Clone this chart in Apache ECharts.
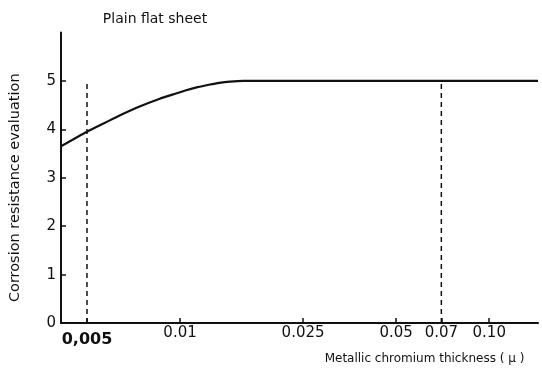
<!DOCTYPE html>
<html>
<head>
<meta charset="utf-8">
<script src="https://cdn.jsdelivr.net/npm/echarts@6/dist/echarts.min.js"></script>
<style>
  html, body { margin: 0; padding: 0; background: #fff; }
  #chart { width: 542px; height: 370px; }
</style>
</head>
<body>
<div id="chart"></div>
<script>
// metallic chromium thickness (micron) vs corrosion rating
const thickness = [0.00412, 0.005, 0.0057, 0.0064, 0.0074, 0.0086, 0.0095, 0.0104, 0.0114, 0.0124, 0.0134, 0.0145, 0.0160, 0.0175, 0.1438]
const rating = [3.65, 3.95, 4.13, 4.29, 4.47, 4.63, 4.72, 4.80, 4.87, 4.92, 4.96, 4.985, 5.0, 5.0, 5.0]

// dashed verticals drawn from 0 up to rating 5
const dashThickness = [0.005, 0.07]
const dashRange = [0, 5]

const xTickValues = [0.005, 0.01, 0.025, 0.05, 0.07, 0.1]
const xTickLabels = ["0,005", "0.01", "0.025", "0.05", "0.07", "0.10"]
const yTickValues = [0, 1, 2, 3, 4, 5]

const ink = "#111"
const font = "DejaVu Sans"

const chart = echarts.init(document.getElementById("chart"))

const dashSeries = dashThickness.map((x) => ({
  type: "line",
  data: dashRange.map((y) => [x, y]),
  symbol: "none",
  silent: true,
  lineStyle: { color: ink, width: 1.5, type: [5, 4] },
}))

const option = {
  animation: false,
  title: {
    text: "Plain flat sheet",
    left: 150,
    top: 7,
    textAlign: "center",
    textStyle: { fontFamily: font, fontSize: 14, fontWeight: "normal", color: ink },
  },
  grid: { left: 58, right: 4, top: 32.4, bottom: 41.8 },
  xAxis: {
    type: "log",
    min: 0.00412,
    max: 0.1438,
    name: "Metallic chromium thickness ( μ )",
    nameLocation: "middle",
    nameGap: 27,
    nameTextStyle: { fontFamily: font, fontSize: 12, color: ink, padding: [0, 0, 0, 250] },
    axisLine: { lineStyle: { color: ink, width: 2 } },
    axisTick: { inside: true, length: 5, customValues: xTickValues, lineStyle: { color: ink, width: 1.5 } },
    splitLine: { show: false },
    minorTick: { show: false },
    axisLabel: {
      customValues: xTickValues,
      margin: 3,
      fontFamily: font,
      fontSize: 15,
      color: ink,
      formatter: (v) => {
        let best = 0
        xTickValues.forEach((t, i) => {
          if (Math.abs(Math.log(t) - Math.log(v)) < Math.abs(Math.log(xTickValues[best]) - Math.log(v))) best = i
        })
        return best === 0 ? "{b|" + xTickLabels[best] + "}" : xTickLabels[best]
      },
      rich: {
        b: { fontFamily: font, fontSize: 16, fontWeight: "bold", color: ink, padding: [6, 0, 0, 0] },
      },
    },
  },
  yAxis: {
    type: "value",
    min: 0,
    max: 6,
    interval: 1,
    name: "Corrosion resistance evaluation",
    nameLocation: "middle",
    nameGap: 38,
    nameTextStyle: { fontFamily: font, fontSize: 14.5, color: ink, padding: [0, 20, 0, 0] },
    axisLine: { show: true, lineStyle: { color: ink, width: 2 } },
    axisTick: { show: true, inside: true, length: 5, customValues: yTickValues, lineStyle: { color: ink, width: 1.5 } },
    splitLine: { show: false },
    axisLabel: { customValues: yTickValues, margin: 5, fontFamily: font, fontSize: 15, color: ink },
  },
  series: [
    {
      type: "line",
      data: thickness.map((x, i) => [x, rating[i]]),
      symbol: "none",
      smooth: 0.2,
      lineStyle: { color: ink, width: 2.2 },
    },
    ...dashSeries,
  ],
}

chart.setOption(option)
</script>
</body>
</html>
